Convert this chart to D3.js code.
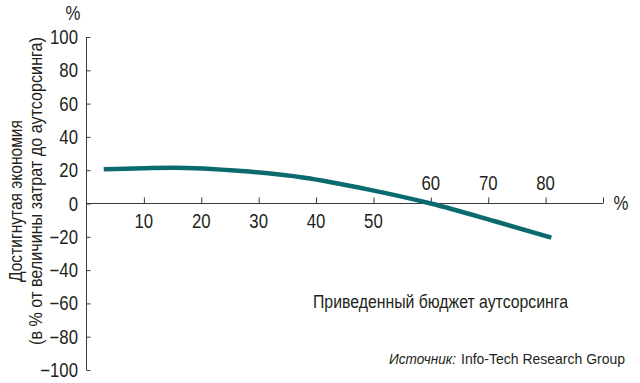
<!DOCTYPE html>
<html><head><meta charset="utf-8">
<script src="https://cdn.jsdelivr.net/npm/d3@7"></script>
<style>
body{margin:0;background:#fff;}
svg text{font-family:"Liberation Sans",Arial,sans-serif;fill:#231f20;}
</style></head>
<body><svg id="c" width="640" height="383"></svg>
<script>
const budget = [3, 15, 27, 38, 49, 60, 71, 81];
const savings = [20.5, 21.5, 19.5, 15.5, 8.5, 0, -10.5, -20.5];
const xTicks = [10, 20, 30, 40, 50, 60, 70, 80, 90];
const xLabelsBelow = [10, 20, 30, 40, 50];
const xLabelsAbove = [60, 70, 80];
const yTicks = [100, 80, 60, 40, 20, 0, -20, -40, -60, -80, -100];
const yTitle1 = "Достигнутая экономия";
const yTitle2 = "(в % от величины затрат до аутсорсинга)";
const xTitle = "Приведенный бюджет аутсорсинга";
const sourceLabel = "Источник:";
const sourceText = "Info-Tech Research Group";

const svg = d3.select("#c");
const x = d3.scaleLinear().domain([0, 90]).range([86.5, 603]);
const y = d3.scaleLinear().domain([-100, 100]).range([370, 37]);
const axisColor = "#3a3a3a";
const condense = 0.86;
function narrow(sel, k) {
  sel.each(function() {
    const w = this.getComputedTextLength();
    this.setAttribute("textLength", w * (k || condense));
    this.setAttribute("lengthAdjust", "spacingAndGlyphs");
  });
}
function fitTo(sel, w) {
  sel.attr("textLength", w).attr("lengthAdjust", "spacingAndGlyphs");
}

// Y axis
const yAxis = svg.append("g").attr("transform", `translate(${x(0)},0)`)
  .call(d3.axisRight(y).tickValues(yTicks).tickSize(4).tickFormat(""));
yAxis.select(".domain").attr("d", `M0,${y(100)}V${y(-100)}`).attr("stroke", axisColor);
yAxis.selectAll(".tick line").attr("stroke", axisColor);
svg.append("g").selectAll("text").data(yTicks).join("text")
  .attr("x", 78).attr("y", d => y(d) + 7)
  .attr("text-anchor", "end").attr("font-size", 19.5)
  .text(d => d < 0 ? "\u2212" + Math.abs(d) : d).call(narrow);

// X axis
const xAxis = svg.append("g").attr("transform", `translate(0,${y(0)})`)
  .call(d3.axisTop(x).tickValues(xTicks).tickSize(6).tickFormat(""));
xAxis.select(".domain").attr("d", `M${x(0)},0H${x(90)}`).attr("stroke", axisColor);
xAxis.selectAll(".tick line").attr("stroke", axisColor);
svg.append("g").selectAll("text").data(xLabelsBelow).join("text")
  .attr("x", d => x(d)).attr("y", y(0) + 24)
  .attr("text-anchor", "middle").attr("font-size", 19.5).text(d => d).call(narrow);
svg.append("g").selectAll("text").data(xLabelsAbove).join("text")
  .attr("x", d => x(d)).attr("y", y(0) - 13.5)
  .attr("text-anchor", "middle").attr("font-size", 19.5).text(d => d).call(narrow);

// Units
svg.append("text").attr("x", 73).attr("y", 20).attr("text-anchor", "middle").attr("font-size", 19.5).text("%").call(narrow);
svg.append("text").attr("x", 621).attr("y", 210).attr("text-anchor", "middle").attr("font-size", 19.5).text("%").call(narrow);

// Y title
svg.append("text").attr("transform", "translate(22,201) rotate(-90)")
  .attr("text-anchor", "middle").attr("font-size", 18).text(yTitle1).call(fitTo, 162);
svg.append("text").attr("transform", "translate(42,191) rotate(-90)")
  .attr("text-anchor", "middle").attr("font-size", 18).text(yTitle2).call(fitTo, 308);

// X title & source
svg.append("text").attr("x", 313).attr("y", 308).attr("font-size", 18).text(xTitle).call(fitTo, 255);
svg.append("text").attr("x", 389).attr("y", 364).attr("font-size", 14.5)
  .attr("font-style", "italic").text(sourceLabel).call(fitTo, 67);
svg.append("text").attr("x", 461).attr("y", 364).attr("font-size", 14.5)
  .text(sourceText).call(fitTo, 164);

// Line
const line = d3.line().x((d, i) => x(budget[i])).y(d => y(d)).curve(d3.curveMonotoneX);
svg.append("path").datum(savings).attr("d", line)
  .attr("fill", "none").attr("stroke", "#0b6a6e").attr("stroke-width", 4.5)
  .attr("stroke-linejoin", "round");
</script></body></html>
